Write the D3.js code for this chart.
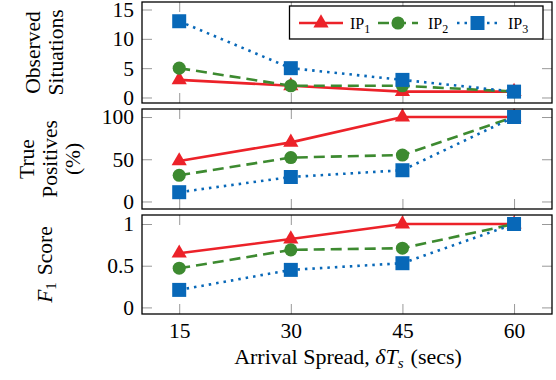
<!DOCTYPE html>
<html>
<head>
<meta charset="utf-8">
<script src="https://cdn.jsdelivr.net/npm/d3@7"></script>
<style>
  body { margin: 0; background: #fff; }
</style>
</head>
<body>
<svg id="chart" width="556" height="380"></svg>
<script>
// data
var spreads = [15, 30, 45, 60];
var seriesNames = ["IP1", "IP2", "IP3"];
var observed = [
  [3, 2, 1, 1],
  [5, 2, 2, 1],
  [13, 5, 3, 1]
];
var truePos = [
  [48, 70, 100, 100],
  [31, 52, 55, 100],
  [11, 29, 37, 100]
];
var f1 = [
  [0.65, 0.82, 1, 1],
  [0.47, 0.69, 0.71, 1],
  [0.21, 0.45, 0.53, 1]
];
var ticks1 = [0, 5, 10, 15];
var ticks2 = [0, 50, 100];
var ticks3 = [0, 0.5, 1];

var FONT = "'Liberation Serif', 'Times New Roman', Times, 'DejaVu Serif', serif";
var colors = ["#ec2229", "#3d8a30", "#0868b8"];
var dashes = [null, "11,6", "2.5,5"];
var symbols = [d3.symbolTriangle, d3.symbolCircle, d3.symbolSquare];
var symSize = [100, 135, 196];

var svg = d3.select("#chart").attr("font-family", FONT);
var left = 142, right = 552;
var x = d3.scaleLinear().domain([10, 65.1]).range([left, right]);

var panels = [
  { data: observed, top: 2, bottom: 103, domain: [-0.94, 16.28], ticks: ticks1, fmt: d3.format("d"),
    label: [["Observed"], ["Situations"]], lx: [40, 63] },
  { data: truePos, top: 109, bottom: 209, domain: [-8.9, 109.5], ticks: ticks2, fmt: d3.format("d"),
    label: [["True"], ["Positives"], ["(%)"]], lx: [34, 57, 80] },
  { data: f1, top: 215, bottom: 314, domain: [-0.079, 1.108], ticks: ticks3, fmt: function(d){ return d === 0.5 ? "0.5" : d3.format("d")(d); },
    label: null, lx: [52] }
];

panels.forEach(function(p, pi) {
  var y = d3.scaleLinear().domain(p.domain).range([p.bottom, p.top]);
  var g = svg.append("g");

  // inner ticks on all four sides
  var tl = 10;
  var axB = g.append("g").attr("transform", "translate(0," + p.bottom + ")")
    .call(d3.axisBottom(x).tickValues(spreads).tickSize(-tl).tickSizeOuter(0).tickPadding(9)
      .tickFormat(pi === 2 ? d3.format("d") : ""));
  var axT = g.append("g").attr("transform", "translate(0," + p.top + ")")
    .call(d3.axisTop(x).tickValues(spreads).tickSize(-tl).tickSizeOuter(0).tickFormat(""));
  var axL = g.append("g").attr("transform", "translate(" + left + ",0)")
    .call(d3.axisLeft(y).tickValues(p.ticks).tickSize(-tl).tickSizeOuter(0).tickPadding(8).tickFormat(p.fmt));
  var axR = g.append("g").attr("transform", "translate(" + right + ",0)")
    .call(d3.axisRight(y).tickValues(p.ticks).tickSize(-tl).tickSizeOuter(0).tickFormat(""));
  [axB, axT, axL, axR].forEach(function(a) {
    a.attr("font-family", FONT).attr("font-size", 21.5);
    a.select(".domain").remove();
    a.selectAll(".tick line").attr("stroke", "#999").attr("stroke-width", 1);
  });

  // series
  p.data.forEach(function(vals, si) {
    var line = d3.line().x(function(d, i) { return x(spreads[i]); }).y(function(d) { return y(d); });
    g.append("path").datum(vals)
      .attr("d", line)
      .attr("fill", "none")
      .attr("stroke", colors[si])
      .attr("stroke-width", 2.6)
      .attr("stroke-dasharray", dashes[si]);
    g.selectAll(".m" + si).data(vals).enter().append("path")
      .attr("transform", function(d, i) { return "translate(" + x(spreads[i]) + "," + y(d) + ")"; })
      .attr("d", d3.symbol().type(symbols[si]).size(symSize[si]))
      .attr("fill", colors[si]);
  });

  // frame
  g.append("rect")
    .attr("x", left).attr("y", p.top)
    .attr("width", right - left).attr("height", p.bottom - p.top)
    .attr("fill", "none").attr("stroke", "#000").attr("stroke-width", 1.3);

  // y label
  var cy = (p.top + p.bottom) / 2;
  if (p.label) {
    p.label.forEach(function(txt, li) {
      svg.append("text")
        .attr("transform", "translate(" + p.lx[li] + "," + cy + ") rotate(-90)")
        .attr("text-anchor", "middle")
        .attr("font-size", 21.5)
        .text(txt[0]);
    });
  } else {
    var t = svg.append("text")
      .attr("transform", "translate(" + p.lx[0] + "," + cy + ") rotate(-90)")
      .attr("text-anchor", "middle")
      .attr("font-size", 21.5);
    t.append("tspan").attr("font-style", "italic").text("F");
    t.append("tspan").attr("font-size", 15).attr("dy", 4).text("1");
    t.append("tspan").attr("dy", -4).attr("dx", 7).text("Score");
  }
});

// x axis title
var xt = svg.append("text")
  .attr("x", 348).attr("y", 364)
  .attr("text-anchor", "middle")
  .attr("font-size", 22);
xt.append("tspan").text("Arrival Spread, ");
xt.append("tspan").attr("font-style", "italic").text("\u03B4T");
xt.append("tspan").attr("font-style", "italic").attr("font-size", 15).attr("dy", 4).text("s");
xt.append("tspan").attr("dy", -4).attr("dx", 7).text("(secs)");

// legend
var lg = svg.append("g");
lg.append("rect")
  .attr("x", 289.5).attr("y", 6).attr("width", 253.5).attr("height", 33)
  .attr("fill", "#fff").attr("stroke", "#000").attr("stroke-width", 1.3);
var legX = [299, 378, 457];
var legW = [44, 40, 41];
var legTextX = [350, 428, 508];
var ly = 23;
seriesNames.forEach(function(name, si) {
  lg.append("line")
    .attr("x1", legX[si]).attr("x2", legX[si] + legW[si])
    .attr("y1", ly).attr("y2", ly)
    .attr("stroke", colors[si]).attr("stroke-width", 2.6)
    .attr("stroke-dasharray", dashes[si]);
  lg.append("path")
    .attr("transform", "translate(" + (legX[si] + legW[si] / 2) + "," + ly + ")")
    .attr("d", d3.symbol().type(symbols[si]).size(symSize[si]))
    .attr("fill", colors[si]);
  var tx = lg.append("text").attr("x", legTextX[si]).attr("y", ly + 5.5).attr("font-size", 16);
  tx.append("tspan").text(name.slice(0, 2));
  tx.append("tspan").attr("font-size", 12).attr("dy", 4).text(name.slice(2));
});
</script>
</body>
</html>
